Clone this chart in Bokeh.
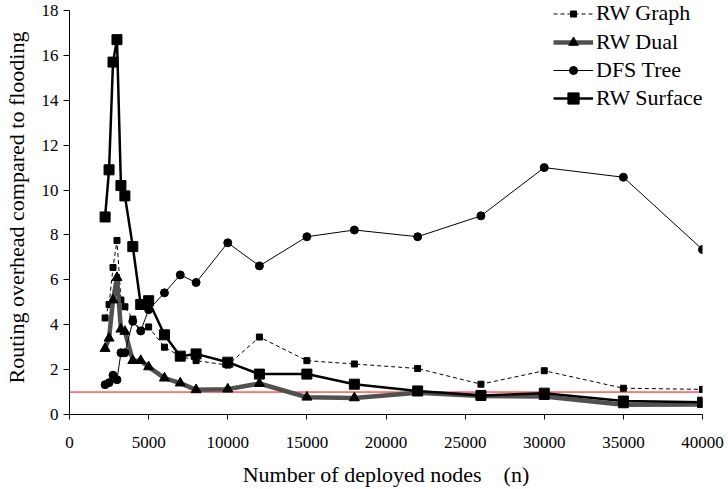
from bokeh.plotting import figure
from bokeh.models import Range1d, FixedTicker, Legend, LegendItem
from bokeh.embed import file_html
from bokeh.resources import INLINE

nodes = [2250, 2500, 2750, 3000, 3250, 3500, 4000, 4500, 5000, 6000, 7000,
         8000, 10000, 12000, 15000, 18000, 22000, 26000, 30000, 35000, 40000]
rw_graph = [4.3, 4.9, 6.55, 7.75, 5.1, 4.8, 4.25, 3.75, 3.9, 3.0, 2.6,
            2.4, 2.2, 3.45, 2.4, 2.25, 2.05, 1.35, 1.95, 1.17, 1.12]
rw_dual = [2.94, 3.4, 5.1, 6.1, 3.8, 3.7, 2.4, 2.4, 2.12, 1.62, 1.4,
           1.1, 1.13, 1.38, 0.77, 0.74, 0.97, 0.82, 0.8, 0.43, 0.45]
dfs_tree = [1.33, 1.42, 1.75, 1.55, 2.75, 2.75, 4.15, 3.72, 4.67, 5.42, 6.22,
            5.88, 7.65, 6.62, 7.92, 8.22, 7.92, 8.85, 11.0, 10.57, 7.35]
rw_surface = [8.8, 10.9, 15.7, 16.7, 10.2, 9.74, 7.48, 4.9, 5.07, 3.55, 2.6,
              2.7, 2.33, 1.8, 1.8, 1.35, 1.05, 0.85, 0.95, 0.6, 0.55]
flood_x = [0, 40000]
flood_y = [1, 1]

x_ticks = [0, 5000, 10000, 15000, 20000, 25000, 30000, 35000, 40000]
y_ticks = [0, 2, 4, 6, 8, 10, 12, 14, 16, 18]

FONT = "Liberation Serif"

p = figure(width=728, height=489, output_backend="svg", toolbar_location=None,
           x_range=Range1d(0, 40000), y_range=Range1d(0, 18 + 10 / 22.5),
           min_border_left=69, min_border_right=26, min_border_top=0, min_border_bottom=74,
           styles={"position": "absolute", "top": "0px", "left": "0px"})
p.outline_line_color = None
p.xgrid.visible = False
p.ygrid.visible = False
p.background_fill_color = "white"
p.border_fill_color = "white"

for ax in (p.xaxis[0], p.yaxis[0]):
    ax.axis_line_color = "black"
    ax.axis_line_width = 1
    ax.major_tick_line_color = "black"
    ax.minor_tick_line_color = None
    ax.major_tick_in = 0
    ax.major_label_text_font = FONT
    ax.major_label_text_font_size = "17px"
    ax.major_label_text_color = "black"
    ax.axis_label_text_font = FONT
    ax.axis_label_text_font_size = "22px"
    ax.axis_label_text_font_style = "normal"
    ax.axis_label_text_color = "black"

p.yaxis[0].bounds = (0, 18)
p.xaxis[0].ticker = FixedTicker(ticks=x_ticks)
p.yaxis[0].ticker = FixedTicker(ticks=y_ticks)
p.xaxis[0].major_tick_out = 5
p.yaxis[0].major_tick_out = 6
p.xaxis[0].major_label_standoff = 17
p.yaxis[0].major_label_standoff = 5
p.xaxis[0].axis_label_standoff = 11
p.yaxis[0].axis_label_standoff = 10
p.xaxis[0].axis_label = "Number of deployed nodes\u00a0\u00a0\u00a0 (n)"
p.yaxis[0].axis_label = "Routing overhead compared to flooding"

p.line(flood_x, flood_y, line_color="red", line_width=1)

g_line = p.line(nodes, rw_graph, line_color="black", line_width=1, line_dash="4 3")
g_mark = p.scatter(nodes, rw_graph, marker="square", size=6, fill_color="black", line_color="black")

d_line = p.line(nodes, rw_dual, line_color="#505050", line_width=4.5)
d_mark = p.scatter(nodes, rw_dual, marker="triangle", size=10, fill_color="black", line_color="black")

t_line = p.line(nodes, dfs_tree, line_color="black", line_width=1)
t_mark = p.scatter(nodes, dfs_tree, marker="circle", size=8, fill_color="black", line_color="black")

s_line = p.line(nodes, rw_surface, line_color="black", line_width=2.5)
s_mark = p.scatter(nodes, rw_surface, marker="square", size=10, fill_color="black", line_color="black")

# one single-row legend per series, so each legend marker keeps its own size
legend_rows = [
    ("RW Graph", [g_line, g_mark], 15, 387),
    ("RW Dual", [d_line, d_mark], 24, 358),
    ("DFS Tree", [t_line, t_mark], 20, 330),
    ("RW Surface", [s_line, s_mark], 28, 302),
]
for label, rends, gh, vy in legend_rows:
    lg = Legend(items=[LegendItem(label=label, renderers=rends)], location=(484, vy))
    lg.border_line_color = None
    lg.background_fill_alpha = 0
    lg.padding = 0
    lg.margin = 0
    lg.spacing = 0
    lg.glyph_width = 40
    lg.glyph_height = gh
    lg.label_height = 28
    lg.label_standoff = 3
    lg.label_text_font = FONT
    lg.label_text_font_size = "22px"
    lg.label_text_color = "black"
    p.add_layout(lg, "center")

open("out.html", "w").write(file_html(p, INLINE))
